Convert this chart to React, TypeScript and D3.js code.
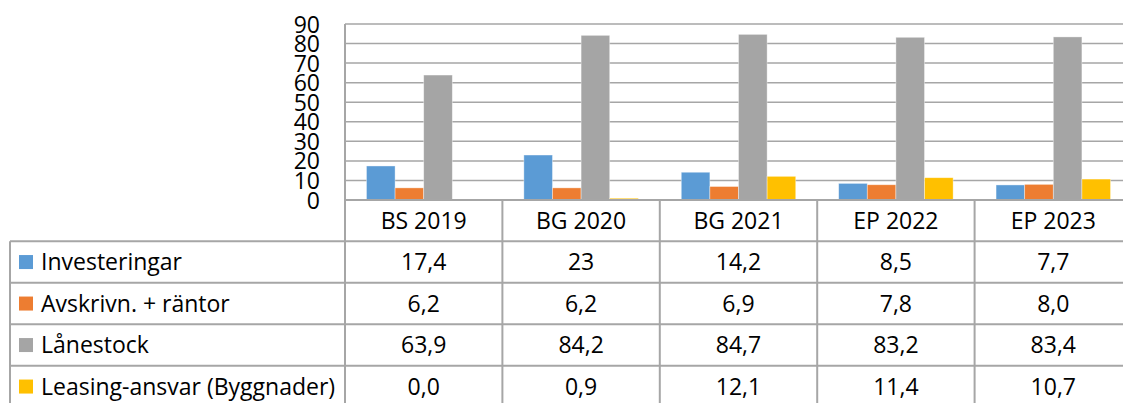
import { scaleBand, scaleLinear } from 'd3'

const categories = ['BS 2019', 'BG 2020', 'BG 2021', 'EP 2022', 'EP 2023']
const seriesNames = ['Investeringar', 'Avskrivn. + räntor', 'Lånestock', 'Leasing-ansvar (Byggnader)']
const investeringar = [17.4, 23, 14.2, 8.5, 7.7]
const avskrivn = [6.2, 6.2, 6.9, 7.8, 8.0]
const lanestock = [63.9, 84.2, 84.7, 83.2, 83.4]
const leasing = [0.0, 0.9, 12.1, 11.4, 10.7]
const yTicks = [0, 10, 20, 30, 40, 50, 60, 70, 80, 90]
const colors = ['#5B9BD5', '#ED7D31', '#A5A5A5', '#FFC000']

const seriesValues = [investeringar, avskrivn, lanestock, leasing]

// the first series is shown as typed in the sheet ("23" has no decimal)
const fmt = (v: number, i: number) =>
  (i === 0 ? String(v) : v.toFixed(1)).replace('.', ',')

export default function App() {
  const width = 1123
  const height = 403
  const plotLeft = 345
  const plotRight = 1132
  const plotTop = 24
  const plotBottom = 200
  const tableLeft = 10
  const headerBottom = 241.3
  const rowH = 41.5
  const font = '"Open Sans", Lato, sans-serif'
  const fontSize = 23
  const lineColor = '#A6A6A6'

  const x = scaleBand().domain(categories).range([plotLeft, plotRight]).paddingInner(0).paddingOuter(0)
  const xInner = scaleBand()
    .domain(seriesNames)
    .range([0, x.bandwidth()])
    .paddingInner(0)
    .paddingOuter(0.75)
  const y = scaleLinear().domain([0, 90]).range([plotBottom, plotTop])

  const tableBottom = headerBottom + rowH * seriesNames.length

  return (
    <svg
      width={width}
      height={height}
      style={{ position: 'absolute', left: 0, top: 0, background: '#fff' }}
      fontFamily={font}
    >
      {/* gridlines */}
      {yTicks.map((t) => (
        <line key={`g-${t}`} x1={plotLeft} x2={plotRight} y1={y(t)} y2={y(t)} stroke={lineColor} strokeWidth={1.5} />
      ))}

      {/* y tick labels */}
      {yTicks.map((t) => (
        <text key={`yt-${t}`} x={320} y={y(t) + 8.5} textAnchor="end" fontSize={fontSize} fill="#000">
          {t}
        </text>
      ))}

      {/* bars */}
      {categories.map((c, ci) => (
        <g key={c} transform={`translate(${x(c)},0)`}>
          {seriesNames.map((s, si) => {
            const v = seriesValues[si][ci]
            return (
              <rect
                key={s}
                x={xInner(s)}
                y={y(v)}
                width={xInner.bandwidth()}
                height={plotBottom - y(v)}
                fill={colors[si]}
                stroke="#fff"
                strokeOpacity={0.5}
                strokeWidth={0.75}
              />
            )
          })}
        </g>
      ))}

      {/* table lines */}
      <line x1={plotLeft} x2={plotLeft} y1={plotTop} y2={height} stroke={lineColor} strokeWidth={2} />
      <line x1={plotLeft} x2={plotRight} y1={plotBottom} y2={plotBottom} stroke={lineColor} strokeWidth={2} />
      {categories.slice(1).map((c) => (
        <line key={`v-${c}`} x1={x(c)} x2={x(c)} y1={plotBottom} y2={tableBottom} stroke={lineColor} strokeWidth={2} />
      ))}
      <line x1={tableLeft} x2={tableLeft} y1={headerBottom} y2={tableBottom} stroke={lineColor} strokeWidth={2} />
      {seriesNames.map((s, si) => (
        <line
          key={`h-${s}`}
          x1={tableLeft}
          x2={plotRight}
          y1={headerBottom + si * rowH}
          y2={headerBottom + si * rowH}
          stroke={lineColor}
          strokeWidth={2}
        />
      ))}
      <line x1={tableLeft} x2={plotRight} y1={tableBottom} y2={tableBottom} stroke={lineColor} strokeWidth={2} />

      {/* category header */}
      {categories.map((c) => (
        <text
          key={`c-${c}`}
          x={(x(c) ?? 0) + x.bandwidth() / 2}
          y={(plotBottom + headerBottom) / 2 + 8}
          textAnchor="middle"
          fontSize={fontSize}
          fill="#000"
        >
          {c}
        </text>
      ))}

      {/* legend + values */}
      {seriesNames.map((s, si) => {
        const mid = headerBottom + si * rowH + rowH / 2
        return (
          <g key={`r-${s}`}>
            <rect x={19} y={mid - 7} width={14} height={14} fill={colors[si]} />
            <text x={41} y={mid + 8} fontSize={fontSize} fill="#000">
              {s}
            </text>
            {categories.map((c, ci) => (
              <text
                key={`val-${c}`}
                x={(x(c) ?? 0) + x.bandwidth() / 2}
                y={mid + 8}
                textAnchor="middle"
                fontSize={fontSize}
                fill="#000"
              >
                {fmt(seriesValues[si][ci], si)}
              </text>
            ))}
          </g>
        )
      })}
    </svg>
  )
}
